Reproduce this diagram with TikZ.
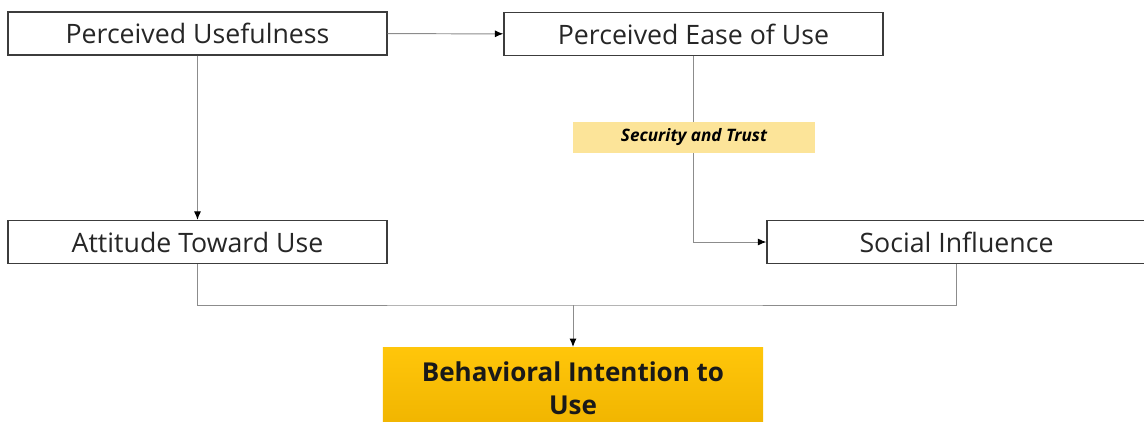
\documentclass[tikz,border=0pt]{standalone}
\usepackage{fontspec}
\setmainfont{Open Sans}
\usetikzlibrary{arrows.meta}

\definecolor{linegray}{RGB}{140,140,140}
\definecolor{boxgray}{RGB}{60,60,60}
\definecolor{trustyellow}{RGB}{252,228,153}
\definecolor{goldtop}{RGB}{255,198,10}
\definecolor{goldbottom}{RGB}{240,180,0}

\begin{document}
\begin{tikzpicture}[x=0.025cm, y=-0.025cm,
    factor/.style={draw=boxgray, line width=0.9pt, fill=white, text=black!85,
        minimum width=9.475cm, minimum height=1.075cm, inner sep=0pt,
        font=\fontsize{19}{22}\selectfont},
    moderator/.style={fill=trustyellow, minimum width=6.05cm, minimum height=0.775cm,
        inner sep=0pt, font=\fontsize{12.2}{14}\selectfont\bfseries\itshape},
    outcome/.style={top color=goldtop, bottom color=goldbottom, text=black!90,
        minimum width=9.5cm, minimum height=2.05cm, align=center,
        font=\fontsize{18.5}{24}\selectfont\bfseries},
    link/.style={draw=linegray, line width=0.7pt},
    >={Latex[length=6pt, width=5pt, color=black]}]
    \useasboundingbox (0,0) rectangle (1144,421);

    % Boxen.
    \node[factor] (pu) at (197.5,33.5) {Perceived Usefulness};
    \node[factor] (peou) at (693.5,34) {Perceived Ease of Use};
    \node[factor] (atu) at (197.5,242) {Attitude Toward Use};
    \node[factor] (si) at (956.5,242) {Social Influence};
    \node[outcome, anchor=north] (bi) at (573,347) {Behavioral Intention to\\Use};
    \coordinate (join) at (573,305);

    % Linien.
    \draw[link, ->] (pu) -- (peou);
    \draw[link, ->] (pu) -- (atu);
    \draw[link, ->] (peou) |- (si);
    \draw[link] (atu) |- (join) -| (si);
    \draw[link, ->] (join) -- (bi);

    % Moderator.
    \node[moderator] (trust) at (694,137.5) {Security and Trust};
\end{tikzpicture}
\end{document}
